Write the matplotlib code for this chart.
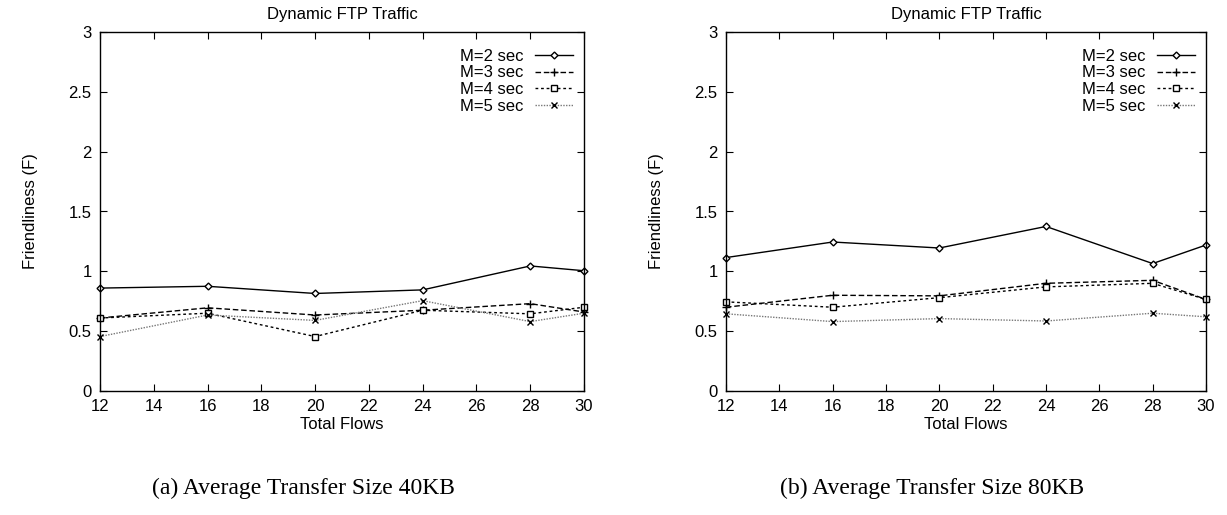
import matplotlib
matplotlib.use("Agg")
import matplotlib.pyplot as plt

plt.rcParams["font.family"] = ["Liberation Sans", "DejaVu Sans"]

flows = [12, 16, 20, 24, 28, 30]
labels = ["M=2 sec", "M=3 sec", "M=4 sec", "M=5 sec"]

# (a) average transfer size 40KB
f40_m2 = [0.86, 0.875, 0.815, 0.845, 1.045, 1.005]
f40_m3 = [0.61, 0.695, 0.635, 0.675, 0.73, 0.66]
f40_m4 = [0.61, 0.65, 0.455, 0.675, 0.645, 0.70]
f40_m5 = [0.455, 0.635, 0.59, 0.755, 0.58, 0.65]

# (b) average transfer size 80KB
f80_m2 = [1.115, 1.245, 1.195, 1.375, 1.065, 1.22]
f80_m3 = [0.70, 0.80, 0.795, 0.90, 0.925, 0.765]
f80_m4 = [0.745, 0.70, 0.78, 0.87, 0.90, 0.765]
f80_m5 = [0.645, 0.58, 0.605, 0.585, 0.65, 0.62]

styles = [
    dict(color="black", ls="-", marker="D", ms=3.5, mfc="white"),
    dict(color="black", ls=(0, (4, 2)), marker="+", ms=6),
    dict(color="black", ls=(0, (2, 2)), marker="s", ms=5, mfc="white"),
    dict(color="#777777", ls=(0, (1, 1)), marker="x", ms=5, mec="black"),
]

fig = plt.figure(figsize=(12.27, 5.15), dpi=100)
ax_a = fig.add_axes([100 / 1227, 124 / 515, 484 / 1227, 359 / 515])
ax_b = fig.add_axes([726 / 1227, 124 / 515, 480 / 1227, 359 / 515])

panels = [
    (ax_a, [f40_m2, f40_m3, f40_m4, f40_m5]),
    (ax_b, [f80_m2, f80_m3, f80_m4, f80_m5]),
]

for ax, series in panels:
    for vals, lab, st in zip(series, labels, styles):
        ax.plot(flows, vals, lw=1, label=lab, clip_on=False, **st)
    ax.set_xlim(12, 30)
    ax.set_ylim(0, 3)
    ax.set_xticks(range(12, 31, 2))
    ax.set_yticks([0, 0.5, 1, 1.5, 2, 2.5, 3])
    ax.set_yticklabels(["0", "0.5", "1", "1.5", "2", "2.5", "3"])
    ax.tick_params(direction="in", top=True, right=True, length=5,
                   labelsize=12, pad=6)
    for sp in ax.spines.values():
        sp.set_linewidth(1)
    ax.set_title("Dynamic FTP Traffic", fontsize=12, pad=9)
    ax.set_xlabel("Total Flows", fontsize=12, labelpad=2)
    ax.set_ylabel("Friendliness (F)", fontsize=12, labelpad=22)
    ax.legend(loc="upper right", bbox_to_anchor=(0.992, 0.972),
              frameon=False, markerfirst=False, fontsize=12,
              handlelength=2.3, handletextpad=0.7,
              labelspacing=0.1, borderaxespad=0)

fig.text(303 / 1227, 1 - 488 / 515, "(a) Average Transfer Size 40KB",
         ha="center", va="center", fontsize=17, family="Liberation Serif")
fig.text(932 / 1227, 1 - 488 / 515, "(b) Average Transfer Size 80KB",
         ha="center", va="center", fontsize=17, family="Liberation Serif")

fig.savefig("out.png", dpi=100)
